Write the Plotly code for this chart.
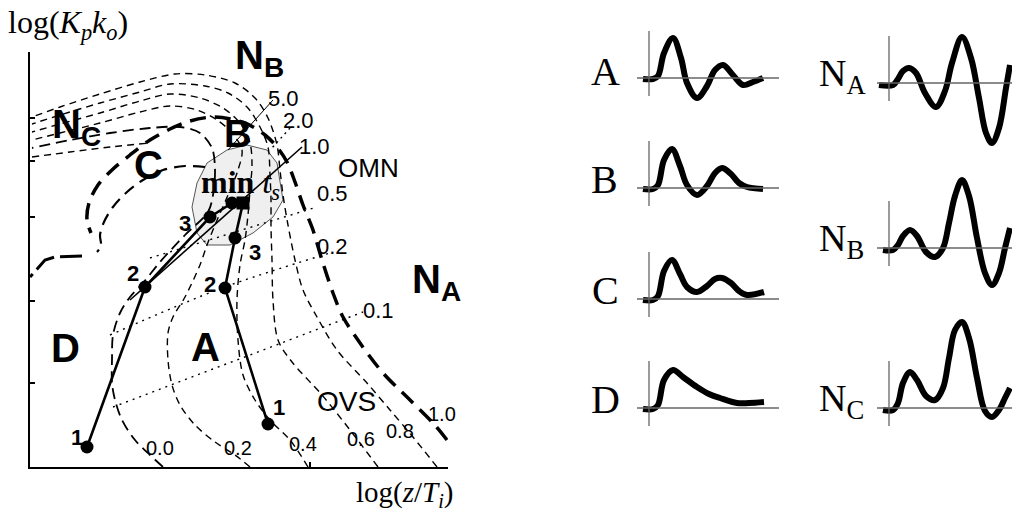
import plotly.graph_objects as go

W, H = 1012, 514
SERIF = "Liberation Serif"
SANS = "Liberation Sans"

# ---------------- main diagram data (schematic units) ----------------
# OVS contour lines: bottom -> up -> arc over -> left axis
ovs00_x = [133, 120, 105, 92, 85, 82, 82, 83, 90, 100, 113, 130, 155, 178, 183, 185, 182, 170, 150, 120, 80, 40, 2]
ovs00_y = [0, 12, 27, 47, 67, 84, 107, 132, 154, 170, 184, 205, 232, 255, 272, 297, 319, 334, 340, 339, 334, 327, 319]
ovs02_x = [220, 205, 185, 165, 150, 142, 138, 138, 143, 155, 170, 177, 185, 198, 208, 212, 202, 187, 167, 140, 110, 70, 30, 2]
ovs02_y = [0, 12, 25, 42, 62, 82, 107, 134, 150, 170, 202, 222, 242, 272, 297, 317, 334, 347, 357, 361, 355, 344, 334, 327]
ovs04_x = [278, 260, 240, 225, 213, 208, 207, 210, 215, 218, 220, 222, 220, 210, 193, 170, 140, 110, 70, 30, 2]
ovs04_y = [0, 27, 47, 67, 92, 127, 167, 202, 227, 252, 277, 302, 324, 344, 359, 369, 373, 366, 354, 343, 335]
ovs06_x = [348, 320, 292, 262, 248, 243, 242, 241, 241, 240, 238, 230, 217, 198, 175, 140, 110, 70, 30, 2]
ovs06_y = [0, 37, 72, 105, 127, 167, 207, 240, 267, 292, 320, 340, 360, 374, 381, 383, 375, 364, 352, 343]
ovs08_x = [407, 383, 360, 337, 307, 287, 273, 265, 258, 253, 250, 247, 238, 225, 205, 175, 145, 110, 70, 30, 2]
ovs08_y = [0, 30, 57, 84, 117, 150, 177, 207, 242, 272, 297, 322, 349, 369, 384, 392, 393, 385, 373, 360, 350]
arc_x = [2, 40, 80, 120]
arc_y = [310, 315, 320, 324]
ovs10_x = [417, 403, 380, 353, 330, 313, 303, 292, 283, 273, 265, 257, 247, 235, 215, 185, 160, 140, 120, 100, 82, 68, 59, 57, 61]
ovs10_y = [27, 44, 67, 94, 124, 150, 174, 207, 237, 262, 285, 305, 320, 332, 344, 350, 346, 338, 327, 312, 297, 282, 264, 247, 234]
ovs10b_x = [52, 25, 15, 0]
ovs10b_y = [211, 210, 207, 190]
cin_x = [175, 155, 133, 113, 97, 83, 74, 70, 71, 67]
cin_y = [300, 301, 297, 287, 275, 260, 245, 232, 221, 215]

# thin guide lines
omn_x, omn_y = [272, 100], [320, 167]
g50_x, g50_y = [243, 198], [367, 317]
g20_x, g20_y = [260, 242], [339, 319]
dot05_x, dot05_y = [120, 287], [209, 260]
dot02_x, dot02_y = [80, 192, 300], [132, 179, 214]
dot01_x, dot01_y = [83, 333], [60, 155]

# tuning paths 1-2-3
pathL_x, pathL_y = [57, 115, 180, 202], [20, 180, 250, 264]
pathR_x, pathR_y = [238, 195, 205, 213], [43, 179, 229, 264]

# min t_s region
gray_x = [162, 167, 177, 197, 217, 237, 247, 253, 243, 223, 200, 177, 167, 162]
gray_y = [260, 284, 304, 317, 322, 317, 304, 267, 250, 234, 222, 222, 234, 260]

ytick_vals = [84, 166, 250, 306, 349, 415]
xtick_vals = [280, 418]

# ---------------- step-response sketches ----------------
wA_t = [-6, 4, 9, 15, 24, 32, 38, 48, 58, 66, 74, 84, 94, 104, 114]
wA_y = [-1, -1, 2, 25, 40, 20, -5, -20, -8, 8, 13, 3, -7, -4, 0]
wB_t = [-6, 4, 9, 15, 23, 31, 38, 48, 58, 66, 73, 82, 90, 98, 114]
wB_y = [-1, -1, 3, 28, 39, 22, 3, -7, 2, 15, 20, 14, 5, 1, -1]
wC_t = [-6, 4, 9, 15, 23, 31, 38, 48, 58, 66, 73, 82, 90, 98, 115]
wC_y = [-1, -1, 3, 28, 39, 25, 12, 7, 13, 20, 21, 16, 8, 4, 7]
wD_t = [-6, 4, 9, 15, 24, 34, 48, 60, 71, 88, 100, 115]
wD_y = [-1, -1, 3, 28, 38, 31, 21, 14, 10, 5, 5, 6]
wNA_t = [-10, 4, 9, 14, 20, 27, 36, 47, 56, 63, 73, 82, 90, 97, 103, 110, 117, 121]
wNA_y = [-2, -2, 4, 12, 15, 10, -10, -24, -8, 20, 46, 25, -15, -50, -60, -45, -5, 18]
wNB_t = [-6, 4, 9, 14, 21, 28, 37, 46, 54, 60, 66, 73, 80, 88, 96, 103, 110, 116, 121]
wNB_y = [-2, -2, 3, 12, 18, 12, -4, -9, 0, 25, 52, 68, 52, 10, -25, -37, -25, 0, 20]
wNC_t = [-6, 4, 9, 14, 21, 28, 37, 46, 54, 60, 66, 73, 80, 88, 96, 103, 110, 116, 121]
wNC_y = [-2, -2, 5, 25, 36, 28, 12, 8, 20, 50, 78, 86, 70, 30, -3, -9, -2, 10, 20]

fig = go.Figure()


def line(x, y, width, dash="solid", spline=True, color="black"):
    fig.add_trace(go.Scatter(
        x=x, y=y, mode="lines", xaxis="x", yaxis="y", hoverinfo="skip", showlegend=False,
        line=dict(color=color, width=width, dash=dash,
                  shape="spline" if spline else "linear", smoothing=0.9)))


# gray region
fig.add_trace(go.Scatter(x=gray_x, y=gray_y, mode="lines", fill="toself", fillcolor="#efefef",
                         line=dict(color="#555555", width=1), hoverinfo="skip", showlegend=False))

thin_dash = "7px,5px"
line(ovs00_x, ovs00_y, 1.8, "11px,6px")
line(ovs02_x, ovs02_y, 1.4, thin_dash)
line(ovs04_x, ovs04_y, 1.4, thin_dash)
line(ovs06_x, ovs06_y, 1.4, thin_dash)
line(ovs08_x, ovs08_y, 1.4, thin_dash)
line(arc_x, arc_y, 1.4, thin_dash)
line(ovs10_x, ovs10_y, 3.5, "16px,9px")
line(ovs10b_x, ovs10b_y, 3.0, "22px,6px", spline=False)
line(cin_x, cin_y, 2.2, "12px,7px")

line(dot05_x, dot05_y, 1.4, "2px,5px", spline=False)
line(dot02_x, dot02_y, 1.4, "2px,5px")
line(dot01_x, dot01_y, 1.4, "2px,5px", spline=False)
line(g50_x, g50_y, 1.0, spline=False)
line(g20_x, g20_y, 1.4, "2px,4px", spline=False)
line(omn_x, omn_y, 1.6, spline=False)

for px, py, sym in [(pathL_x, pathL_y, "circle"), (pathR_x, pathR_y, ["circle", "circle", "circle", "square"])]:
    fig.add_trace(go.Scatter(x=px, y=py, mode="lines+markers", hoverinfo="skip", showlegend=False,
                             line=dict(color="black", width=2.6),
                             marker=dict(color="black", size=13, symbol=sym)))

annotations = []


def note(text, x, y, size, family=SANS, xanchor="center", xref="x", yref="y"):
    annotations.append(dict(text=text, x=x, y=y, xref=xref, yref=yref, showarrow=False,
                            xanchor=xanchor, yanchor="middle",
                            font=dict(family=family, size=size, color="black")))


note("<b>N<sub>B</sub></b>", 203, 409, 40, xanchor="left")
note("<b>N<sub>C</sub></b>", 20, 340, 40, xanchor="left")
note("<b>B</b>", 207, 333, 38)
note("<b>C</b>", 118, 302, 40)
note("OMN", 338, 299, 26)
note("<b>N<sub>A</sub></b>", 380, 185, 40, xanchor="left")
note("<b>D</b>", 35, 119, 40)
note("<b>A</b>", 175, 120, 40)
note("OVS", 316, 66, 28)
note("<b>min</b> <i>t<sub>s</sub></i>", 210, 283, 32, family=SERIF)
for t, x, y in [("0.0", 130, 19), ("0.2", 208, 19), ("0.4", 273, 23), ("0.6", 331, 28),
                ("0.8", 370, 36), ("1.0", 412, 53)]:
    note(t, x, y, 20)
for t, x, y in [("5.0", 253, 368), ("2.0", 268, 346), ("1.0", 284, 321),
                ("0.5", 302, 274), ("0.2", 302, 221), ("0.1", 348, 157)]:
    note(t, x, y, 22)
for t, x, y in [("1", 47, 30), ("2", 103, 194), ("3", 155, 244),
                ("1", 249, 60), ("2", 180, 183), ("3", 225, 215)]:
    note("<b>" + t + "</b>", x, y, 22)

note("log(<i>K<sub>p</sub>k<sub>o</sub></i>)", 6 / W, 1 - 24 / H, 32, family=SERIF, xanchor="left",
     xref="paper", yref="paper")
note("log(<i>z</i>/<i>T<sub>i</sub></i>)", 354 / W, 1 - 494 / H, 29, family=SERIF, xanchor="left",
     xref="paper", yref="paper")

layout = dict(
    width=W, height=H, margin=dict(l=0, r=0, t=0, b=0),
    paper_bgcolor="white", plot_bgcolor="rgba(0,0,0,0)", showlegend=False,
    xaxis=dict(domain=[30 / W, 448 / W], range=[0, 418], showline=True, linecolor="black", linewidth=1.5,
               ticks="inside", ticklen=5, tickwidth=1.5, tickcolor="black", tickvals=xtick_vals,
               showticklabels=False, showgrid=False, zeroline=False, fixedrange=True),
    yaxis=dict(domain=[47 / H, 462 / H], range=[0, 415], showline=True, linecolor="black", linewidth=1.5,
               ticks="inside", ticklen=5, tickwidth=1.5, tickcolor="black", tickvals=ytick_vals,
               showticklabels=False, showgrid=False, zeroline=False, fixedrange=True),
)

# waveform sketches: (label, t, y, origin px, label px, axis end)
waves = [
    ("A", wA_t, wA_y, (649, 78), (605, 72), 130),
    ("B", wB_t, wB_y, (649, 188), (604, 179), 130),
    ("C", wC_t, wC_y, (649, 299), (605, 290), 130),
    ("D", wD_t, wD_y, (649, 408), (605, 399), 130),
    ("N<sub>A</sub>", wNA_t, wNA_y, (889, 83), (817, 76), 123),
    ("N<sub>B</sub>", wNB_t, wNB_y, (889, 248), (817, 241), 123),
    ("N<sub>C</sub>", wNC_t, wNC_y, (889, 408), (817, 401), 123),
]
shapes = []
for i, (lab, t, y, (ox, oy), (lx, ly), hend) in enumerate(waves):
    k = i + 2
    x0, x1 = -15, min(135, W - ox)
    y0, y1 = min(-22, min(y) - 10), max(50, max(y) + 10)
    layout[f"xaxis{k}"] = dict(domain=[(ox + x0) / W, (ox + x1) / W], range=[x0, x1], visible=False,
                               anchor=f"y{k}", fixedrange=True)
    layout[f"yaxis{k}"] = dict(domain=[(H - oy + y0) / H, (H - oy + y1) / H], range=[y0, y1],
                               visible=False, anchor=f"x{k}", fixedrange=True)
    shapes.append(dict(type="line", xref=f"x{k}", yref=f"y{k}", x0=0, x1=0, y0=-18, y1=47,
                       line=dict(color="#666666", width=1.3)))
    shapes.append(dict(type="line", xref=f"x{k}", yref=f"y{k}", x0=-12, x1=hend, y0=0, y1=0,
                       line=dict(color="#666666", width=1.3)))
    fig.add_trace(go.Scatter(x=t, y=y, mode="lines", xaxis=f"x{k}", yaxis=f"y{k}", hoverinfo="skip",
                             showlegend=False, line=dict(color="black", width=6, shape="spline", smoothing=1.0)))
    note(lab, lx / W, 1 - ly / H, 40 if i < 4 else 38, family=SERIF,
         xanchor="center" if i < 4 else "left", xref="paper", yref="paper")

layout["shapes"] = shapes
layout["annotations"] = annotations
fig.update_layout(**layout)
fig.write_html("out.html", config={"displayModeBar": False},
               post_script="document.body.style.margin='0px';")
